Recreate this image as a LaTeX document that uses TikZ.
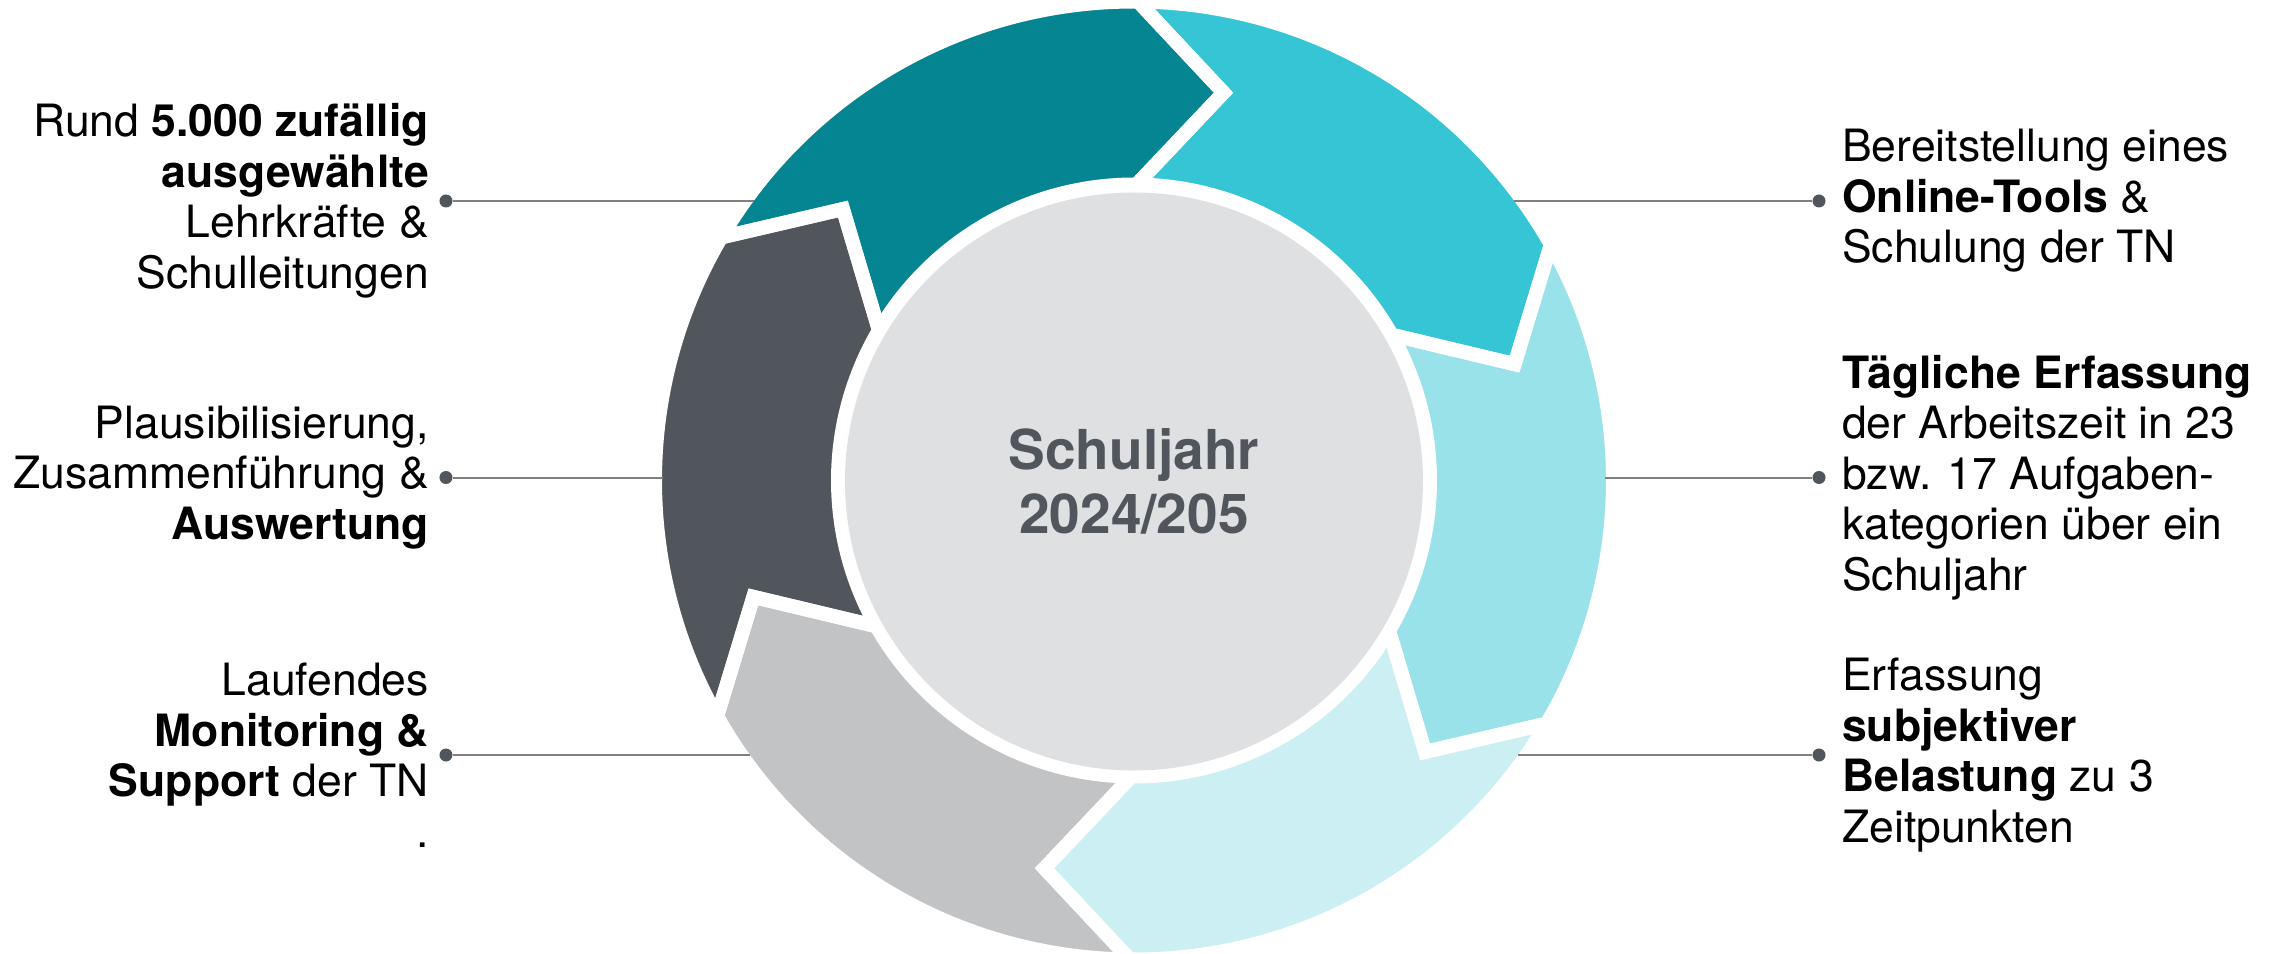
\documentclass[tikz,border=0pt]{standalone}
\usepackage{fontspec}
\setmainfont{TeX Gyre Heros}
\definecolor{cTeal}{HTML}{058491}
\definecolor{cCyan}{HTML}{35C5D5}
\definecolor{cLCyan}{HTML}{9AE2E9}
\definecolor{cPCyan}{HTML}{CBEFF3}
\definecolor{cLGrey}{HTML}{C2C3C5}
\definecolor{cDGrey}{HTML}{50565B}
\definecolor{cCenter}{HTML}{DFE0E2}
\definecolor{cLine}{HTML}{808080}
\newcommand\ringseg[2]{%
  \path[#2] (#1:479pt) arc[start angle=#1, end angle={#1-60}, radius=479pt]
    -- ({#1-72.5}:398pt) -- ({#1-60}:296pt)
    arc[start angle={#1-60}, end angle=#1, radius=296pt]
    -- ({#1-12.5}:398pt) -- cycle;}
\begin{document}
\begin{tikzpicture}[x=1pt,y=1pt,
  gapline/.style={draw=white, line width=14pt, line join=miter},
  lbl/.style={inner sep=0pt, font=\fontsize{44.5}{50.5}\selectfont, text=black},
  dotnode/.style={circle, fill=cDGrey, inner sep=0pt, minimum size=13pt},
  conn/.style={draw=cLine, line width=2pt}]
\useasboundingbox (-1134pt,-472.5pt) rectangle (1135pt,480.5pt);
% ring segments
\ringseg{149.5}{fill=cTeal}
\ringseg{89.5}{fill=cCyan}
\ringseg{29.5}{fill=cLCyan}
\ringseg{-30.5}{fill=cPCyan}
\ringseg{-90.5}{fill=cLGrey}
\ringseg{-150.5}{fill=cDGrey}
\ringseg{149.5}{gapline}
\ringseg{89.5}{gapline}
\ringseg{29.5}{gapline}
\ringseg{-30.5}{gapline}
\ringseg{-90.5}{gapline}
\ringseg{-150.5}{gapline}
% hub
\node[circle, fill=cCenter, minimum size=578pt, inner sep=0pt, text=cDGrey,
  font=\fontsize{55}{64}\selectfont\bfseries, align=center] (hub) at (0pt,-1pt)
  {Schuljahr\\2024/205};
% connector ends at ring edge
\coordinate (e1) at (-380.3pt,279.5pt);
\coordinate (e2) at (-471pt,3pt);
\coordinate (e3) at (-384pt,-274.5pt);
\coordinate (e4) at (380.3pt,279.5pt);
\coordinate (e5) at (471pt,3pt);
\coordinate (e6) at (384pt,-274.5pt);
% dots
\node[dotnode] (d1) at (-688pt,279.5pt) {};
\node[dotnode] (d2) at (-688pt,3pt) {};
\node[dotnode] (d3) at (-688pt,-274.5pt) {};
\node[dotnode] (d4) at (685pt,279.5pt) {};
\node[dotnode] (d5) at (685pt,3pt) {};
\node[dotnode] (d6) at (685pt,-274.5pt) {};
\draw[conn] (d1) -- (e1);
\draw[conn] (d2) -- (e2);
\draw[conn] (d3) -- (e3);
\draw[conn] (d4) -- (e4);
\draw[conn] (d5) -- (e5);
\draw[conn] (d6) -- (e6);
% labels
\node[lbl, anchor=east, align=right] (t1) at (-705pt,279.5pt)
  {Rund \textbf{5.000 zufällig}\\\textbf{ausgewählte}\\Lehrkräfte \&\\Schulleitungen};
\node[lbl, anchor=east, align=right] (t2) at (-705pt,3pt)
  {Plausibilisierung,\\Zusammenführung \&\\\textbf{Auswertung}};
\node[lbl, anchor=east, align=right] (t3) at (-705pt,-274.5pt)
  {Laufendes\\\textbf{Monitoring \&}\\\textbf{Support} der TN\\.};
\node[lbl, anchor=west, align=left] (t4) at (708pt,279.5pt)
  {Bereitstellung eines\\\textbf{Online-Tools} \&\\Schulung der TN};
\node[lbl, anchor=west, align=left] (t5) at (708pt,3pt)
  {\textbf{Tägliche Erfassung}\\der Arbeitszeit in 23\\bzw. 17 Aufgaben-\\kategorien über ein\\Schuljahr};
\node[lbl, anchor=west, align=left] (t6) at (708pt,-274.5pt)
  {Erfassung\\\textbf{subjektiver}\\\textbf{Belastung} zu 3\\Zeitpunkten};
\end{tikzpicture}
\end{document}
